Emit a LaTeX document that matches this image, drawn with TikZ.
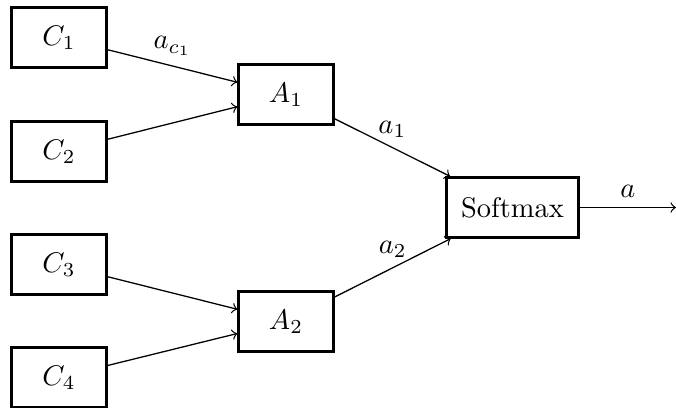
\documentclass[tikz,border=0pt]{standalone}
\usetikzlibrary{arrows}
\begin{document}
\begin{tikzpicture}[x=0.352pt,y=-0.352pt,
  box/.style={draw,line width=0.8pt,minimum width=33.4pt,minimum height=21.1pt,inner sep=0pt},
  conn/.style={->,line width=0.45pt}]
\useasboundingbox (0,0) rectangle (676,408);
\node[box] (C1) at (59,37.5) {$C_1$};
\node[box] (C2) at (59,151.5) {$C_2$};
\node[box] (C3) at (59,264.5) {$C_3$};
\node[box] (C4) at (59,377.5) {$C_4$};
\node[box] (A1) at (286,94.5) {$A_1$};
\node[box] (A2) at (286,321.5) {$A_2$};
\node[box,minimum width=46.5pt] (S) at (512.5,207.5) {Softmax};
\coordinate (out) at (676,207.5);
\draw[conn] (C1) -- node[above] {$a_{c_1}$} (A1);
\draw[conn] (C2) -- (A1);
\draw[conn] (C3) -- (A2);
\draw[conn] (C4) -- (A2);
\draw[conn] (A1) -- node[above] {$a_1$} (S);
\draw[conn] (A2) -- node[above] {$a_2$} (S);
\draw[conn] (S) -- node[above] {$a$} (out);
\end{tikzpicture}
\end{document}
